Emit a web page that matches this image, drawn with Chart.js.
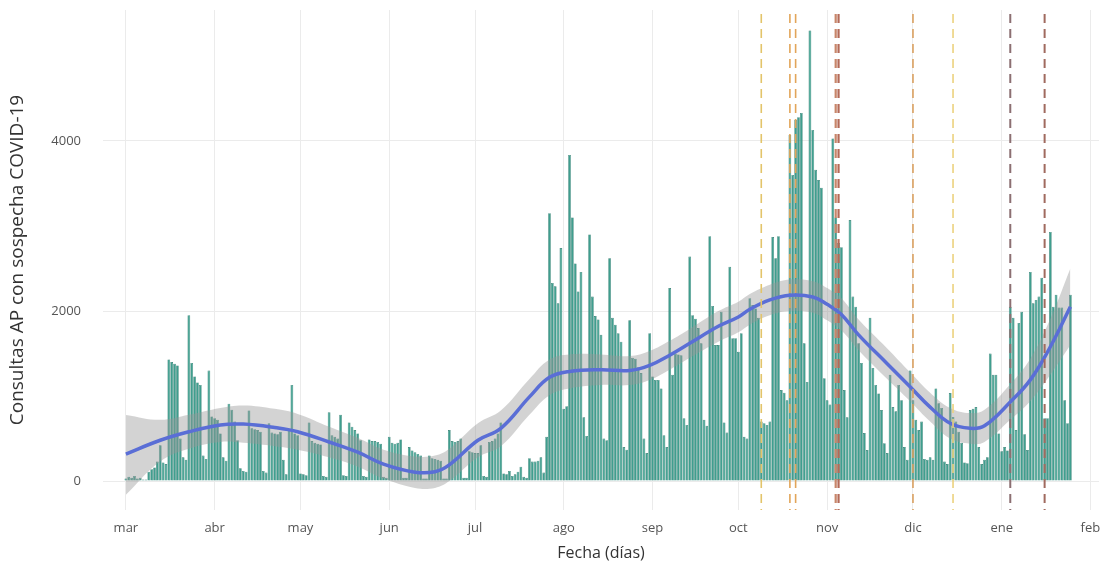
<!DOCTYPE html>
<html lang="es">
<head>
<meta charset="utf-8">
<title>Consultas AP con sospecha COVID-19</title>
<script src="https://cdn.jsdelivr.net/npm/chart.js@4.4.1/dist/chart.umd.min.js"></script>
<style>
    html, body { margin: 0; padding: 0; background: #ffffff; }
    #contenedor { width: 1116px; height: 568px; }
</style>
</head>
<body>
<div id="contenedor"><canvas id="grafico" width="1116" height="568"></canvas></div>
<script>
// Consultas diarias desde el 1 de marzo (dia 0) hasta el 25 de enero (dia 330)
const consultas = [
    30,
    50, 40, 60, 30, 40, 20, 20,
    110, 140, 160, 230, 420, 220, 200,
    1430, 1400, 1380, 1360, 500, 280, 250,
    1950, 1390, 1230, 1160, 1130, 300, 260,
    1300, 760, 740, 720, 560, 280, 240,
    910, 840, 700, 480, 150, 120, 110,
    830, 620, 610, 600, 580, 120, 100,
    680, 570, 560, 550, 580, 250, 80,
    600, 1130, 560, 540, 90, 80, 70,
    690, 470, 450, 440, 430, 60, 50,
    810, 540, 520, 500, 780, 70, 60,
    690, 640, 600, 560, 480, 60, 50,
    490, 470, 470, 460, 440, 50, 40,
    520, 450, 440, 450, 490, 40, 40,
    400, 360, 340, 320, 300, 30, 30,
    300, 270, 260, 250, 240, 30, 30,
    600, 470, 460, 470, 500, 40, 40,
    350, 340, 330, 330, 420, 60, 50,
    460, 470, 500, 560, 690, 90, 80,
    120, 60, 80, 110, 170, 50, 40,
    270, 230, 230, 240, 280, 100, 520,
    3150, 2330, 2290, 2090, 2740, 850, 880,
    3835, 3100, 2560, 2230, 2460, 750, 530,
    2900, 2170, 1940, 1900, 1720, 500, 480,
    2620, 1920, 1840, 1740, 1640, 400, 370,
    1890, 1450, 1440, 1340, 1270, 500, 330,
    1740, 1230, 1190, 1190, 1090, 540, 400,
    2270, 1250, 1500, 1490, 1480, 740, 660,
    2640, 1950, 1910, 1800, 1620, 720, 650,
    2880, 2060, 1600, 1600, 1990, 690, 570,
    2520, 1680, 1680, 1520, 1740, 520, 500,
    2150, 2070, 2030, 1920, 700, 680, 660,
    700, 2870, 2620, 2880, 1070, 1040, 950,
    4070, 3600, 4250, 4280, 4330, 1620, 1165,
    5300, 4130, 3660, 3540, 3450, 1210, 950,
    900, 4030, 3100, 2800, 2750, 1070, 750,
    3070, 2170, 2050, 1620, 1390, 565, 365,
    1920, 1330, 1130, 1030, 835, 445, 330,
    1250, 870, 820, 1130, 950, 400, 250,
    1300, 950, 720, 600, 700, 260, 250,
    280, 250, 1090, 915, 860, 230, 200,
    1035, 755, 700, 580, 450, 220, 210,
    835, 850, 870, 400, 200, 250, 280,
    1500, 1250, 1250, 560, 350, 400, 360,
    2050, 1920, 600, 1860, 1990, 550, 365,
    2460, 2090, 2130, 2170, 2390, 740, 740,
    2930, 2050, 2190, 2040, 2040, 950, 680,
    2190
];

// Curva suavizada (loess) con su banda de confianza
const suaveDias = [0, 12, 22, 33, 41, 52, 60, 71, 81, 90, 101, 108, 113, 123, 131, 141, 148, 155, 166, 176, 183, 190, 197, 207, 214, 218, 225, 232, 240, 245, 250, 256, 266, 274, 281, 288, 295, 300, 309, 316, 323, 330];
const suaveAjuste = [318, 480, 580, 660, 670, 630, 580, 460, 340, 200, 105, 110, 190, 480, 620, 990, 1220, 1290, 1310, 1300, 1360, 1480, 1620, 1820, 1930, 2020, 2130, 2185, 2165, 2080, 1960, 1720, 1380, 1110, 870, 680, 620, 650, 930, 1190, 1580, 2050];
const suaveSuperior = [778, 720, 780, 860, 890, 850, 790, 640, 510, 370, 290, 300, 380, 680, 830, 1200, 1430, 1490, 1490, 1470, 1530, 1650, 1790, 2000, 2110, 2200, 2310, 2370, 2350, 2270, 2150, 1900, 1560, 1280, 1040, 860, 800, 840, 1140, 1440, 1910, 2500];
const suaveInferior = [-160, 230, 380, 460, 450, 410, 370, 280, 170, 30, -80, -80, 0, 280, 410, 780, 1010, 1090, 1130, 1130, 1190, 1310, 1450, 1640, 1750, 1840, 1950, 2000, 1980, 1890, 1770, 1540, 1200, 940, 700, 500, 440, 460, 720, 940, 1250, 1600];

// Fechas de medidas (dias desde el 1 de marzo)
const eventosDias = [222, 232, 234, 248, 249, 275, 289, 309, 321];

// Eje x: inicio de cada mes
const mesesDias = [0, 31, 61, 92, 122, 153, 184, 214, 245, 275, 306, 337];
const mesesNombres = ['mar', 'abr', 'may', 'jun', 'jul', 'ago', 'sep', 'oct', 'nov', 'dic', 'ene', 'feb'];
const ticksY = [0, 2000, 4000];

const coloresEventos = ['#e3c46a', '#e2a55a', '#e2a55a', '#c8866a', '#b46a58', '#d9a060', '#ecd27e', '#8c6f72', '#a06a5e'];
const grosorEventos = [1.6, 1.6, 1.6, 2.2, 2.2, 1.6, 1.6, 2, 2];

const lineasEventos = {
    id: 'lineasEventos',
    afterDatasetsDraw(chart) {
        const ctx = chart.ctx;
        const area = chart.chartArea;
        const x = chart.scales.x;
        ctx.save();
        ctx.setLineDash([9, 6]);
        eventosDias.forEach((dia, i) => {
            const px = x.getPixelForValue(dia);
            ctx.strokeStyle = coloresEventos[i];
            ctx.lineWidth = grosorEventos[i];
            ctx.beginPath();
            ctx.moveTo(px, area.top + 4);
            ctx.lineTo(px, area.bottom);
            ctx.stroke();
        });
        ctx.restore();
    }
};

const puntos = (dias, valores) => dias.map((d, i) => ({ x: d, y: valores[i] }));

const fuente = "'Open Sans', 'Noto Sans', sans-serif";

new Chart(document.getElementById('grafico'), {
    type: 'bar',
    data: {
        datasets: [
            {
                type: 'line',
                label: 'inferior',
                data: puntos(suaveDias, suaveInferior),
                borderWidth: 0,
                pointRadius: 0,
                tension: 0.4,
                fill: false,
                order: 2
            },
            {
                type: 'line',
                label: 'superior',
                data: puntos(suaveDias, suaveSuperior),
                borderWidth: 0,
                pointRadius: 0,
                tension: 0.4,
                fill: '-1',
                backgroundColor: 'rgba(150,150,150,0.42)',
                order: 2
            },
            {
                type: 'line',
                label: 'ajuste',
                data: puntos(suaveDias, suaveAjuste),
                borderColor: '#5a6ed6',
                borderWidth: 3.5,
                pointRadius: 0,
                tension: 0.4,
                fill: false,
                order: 1
            },
            {
                type: 'bar',
                label: 'Consultas',
                data: consultas.map((v, i) => ({ x: i, y: v })),
                backgroundColor: '#3f9e8e',
                borderColor: '#2f7b6e',
                borderWidth: 0.6,
                barPercentage: 0.96,
                categoryPercentage: 1,
                order: 3
            }
        ]
    },
    options: {
        responsive: false,
        animation: false,
        layout: { padding: { top: 10, right: 17, left: 0, bottom: 0 } },
        plugins: {
            legend: { display: false },
            tooltip: { enabled: false }
        },
        scales: {
            x: {
                type: 'linear',
                offset: false,
                min: -8,
                max: 340,
                afterBuildTicks(scale) {
                    scale.ticks = mesesDias.map(v => ({ value: v }));
                },
                afterFit(scale) {
                    scale.height = 58;
                    scale.paddingLeft = 0;
                    scale.paddingRight = 0;
                },
                ticks: {
                    autoSkip: false,
                    maxRotation: 0,
                    padding: 10,
                    color: '#555',
                    font: { family: fuente, size: 13 },
                    callback: (v) => mesesNombres[mesesDias.indexOf(v)]
                },
                grid: { color: '#ebebeb', drawTicks: false, offset: false },
                border: { display: false },
                title: {
                    display: true,
                    text: 'Fecha (días)',
                    color: '#333',
                    font: { family: fuente, size: 16 },
                    padding: { top: 4, bottom: 5 }
                }
            },
            y: {
                type: 'linear',
                min: -340,
                max: 5540,
                afterBuildTicks(scale) {
                    scale.ticks = ticksY.map(v => ({ value: v }));
                },
                afterFit(scale) {
                    scale.width = 103;
                    scale.paddingTop = 0;
                    scale.paddingBottom = 0;
                },
                ticks: {
                    padding: 22,
                    color: '#555',
                    font: { family: fuente, size: 13 },
                    callback: (v) => String(v)
                },
                grid: { color: '#ebebeb', drawTicks: false },
                border: { display: false },
                title: {
                    display: true,
                    text: 'Consultas AP con sospecha COVID-19',
                    color: '#333',
                    font: { family: fuente, size: 19 },
                    padding: { top: 6, bottom: 4 }
                }
            }
        }
    },
    plugins: [lineasEventos]
});
</script>
</body>
</html>
